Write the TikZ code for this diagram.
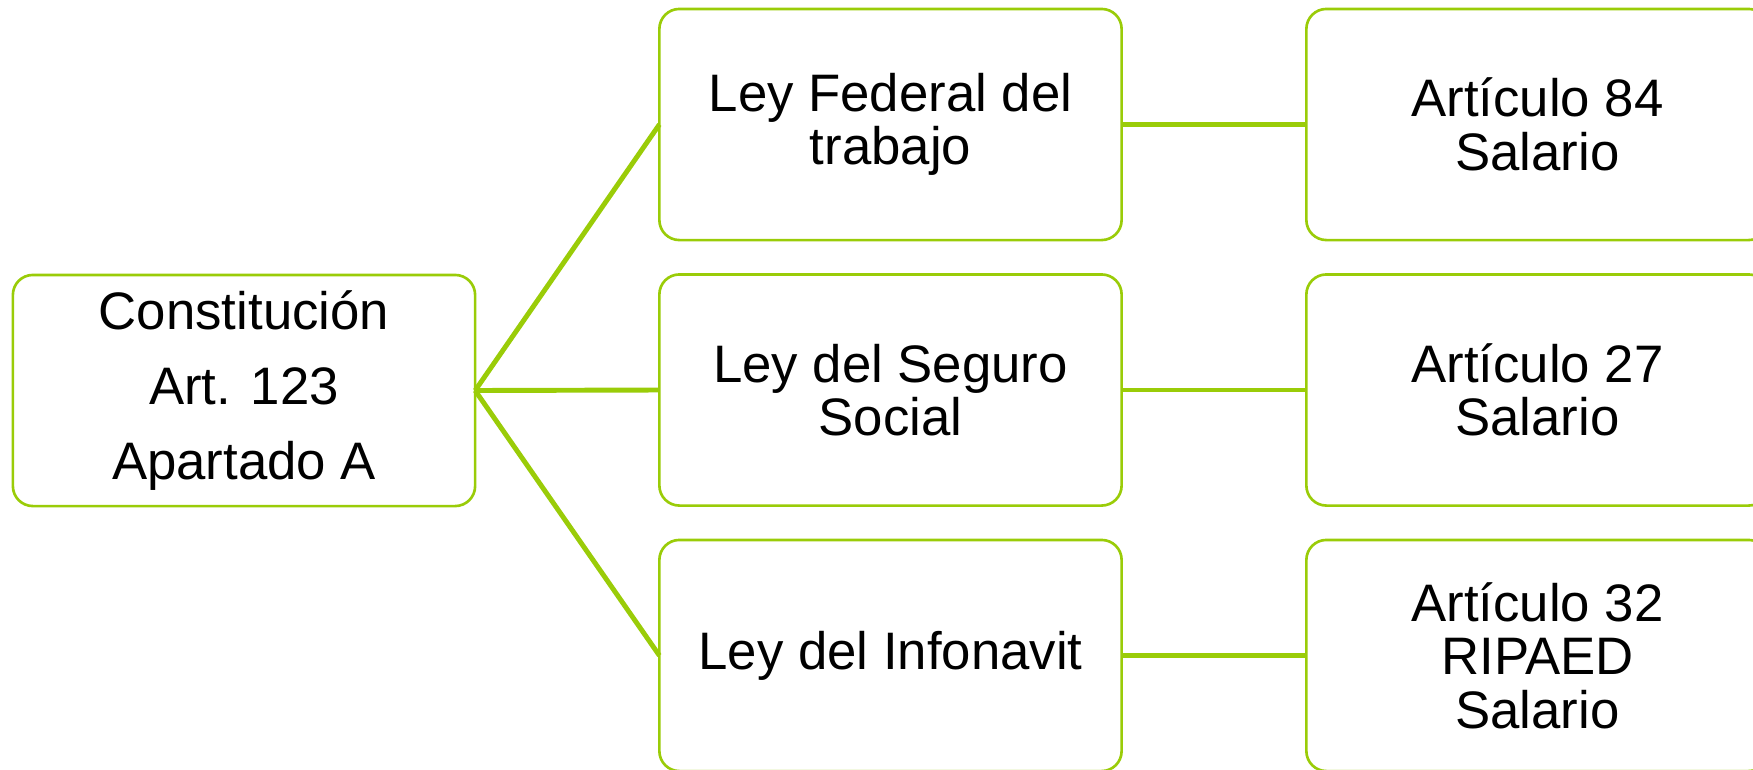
\documentclass[tikz,border=0pt]{standalone}
\usepackage{fontspec}
\setmainfont{Liberation Sans}
\definecolor{leafgreen}{RGB}{154,204,8}
\tikzset{
  cajita/.style={draw=leafgreen, line width=0.75pt, rounded corners=0.2cm, fill=white,
    minimum width=4.62cm, minimum height=2.31cm, outer sep=0pt, align=center,
    font=\fontsize{15}{15.2}\selectfont},
  rama/.style={draw=leafgreen, line width=1.4pt}
}
\begin{document}
\begin{tikzpicture}[x=0.01cm,y=-0.01cm]
  \useasboundingbox (0,0) rectangle (1753,769);

  \node[cajita, font=\fontsize{15}{21.3}\selectfont] (c) at (244,390.5) {Constitución\\Art. 123\\Apartado A};

  \node[cajita] (l1) at (890.5,124.5) {Ley Federal del\\trabajo};
  \node[cajita] (l2) at (890.5,390) {Ley del Seguro\\Social};
  \node[cajita] (l3) at (890.5,655.5) {Ley del Infonavit};

  \node[cajita] (a1) at (1537.5,124.5) {Artículo 84\\Salario};
  \node[cajita] (a2) at (1537.5,390) {Artículo 27\\Salario};
  \node[cajita] (a3) at (1537.5,655.5) {Artículo 32\\RIPAED\\Salario};

  \draw[rama] (c.east) -- (l1.west);
  \draw[rama] (c.east) -- (l2.west);
  \draw[rama] (c.east) -- (l3.west);
  \draw[rama] (l1.east) -- (a1.west);
  \draw[rama] (l2.east) -- (a2.west);
  \draw[rama] (l3.east) -- (a3.west);

\end{tikzpicture}
\end{document}
